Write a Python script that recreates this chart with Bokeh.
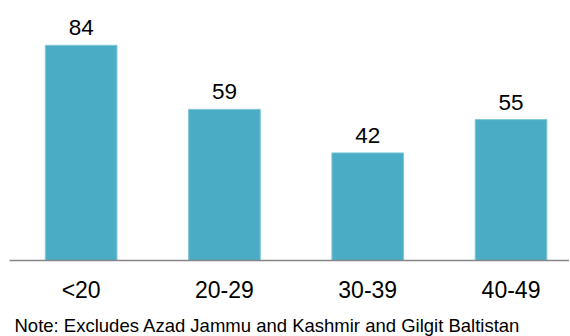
from bokeh.plotting import figure
from bokeh.models import ColumnDataSource, LabelSet, Title, Range1d, FixedTicker
from bokeh.core.properties import value
from bokeh.embed import file_html
from bokeh.resources import INLINE

categories = ["<20", "20-29", "30-39", "40-49"]
values = [84, 59, 42, 55]
note = "Note: Excludes Azad Jammu and Kashmir and Gilgit Baltistan"

xs = list(range(len(categories)))
src = ColumnDataSource(dict(x=xs, top=values, label=[str(v) for v in values]))

p = figure(width=569, height=343, output_backend="svg", toolbar_location=None,
           x_range=Range1d(-0.5, 3.408), y_range=Range1d(0, 101.5),
           min_border_left=9, min_border_right=0, min_border_top=0, min_border_bottom=76)
p.outline_line_color = None
p.grid.visible = False
p.yaxis.visible = False
p.background_fill_color = "white"
p.border_fill_color = "white"

p.vbar(x="x", top="top", width=0.5, bottom=0, source=src,
       fill_color="#4bacc6", line_color="#7fc6d8", line_width=1)

labels = LabelSet(x="x", y="top", text="label", source=src, text_align="center",
                  text_baseline="alphabetic", y_offset=10,
                  text_font_size=value("22.5px"),
                  text_font=value("Liberation Sans"), text_color="black")
p.add_layout(labels)

ax = p.xaxis[0]
ax.ticker = FixedTicker(ticks=xs)
ax.major_label_overrides = {i: c for i, c in enumerate(categories)}
ax.major_tick_line_color = None
ax.minor_tick_line_color = None
ax.axis_line_color = "#868686"
ax.axis_line_width = 1.5
ax.major_label_text_font = "Liberation Sans"
ax.major_label_text_font_size = "23px"
ax.major_label_text_color = "black"
ax.major_label_standoff = 10

t = Title(text=note, align="left", offset=5, text_font="Liberation Sans",
          text_font_size="18.5px", text_font_style="normal", text_color="black",
          standoff=15)
p.add_layout(t, "below")

open("out.html", "w").write(file_html(p, INLINE))
